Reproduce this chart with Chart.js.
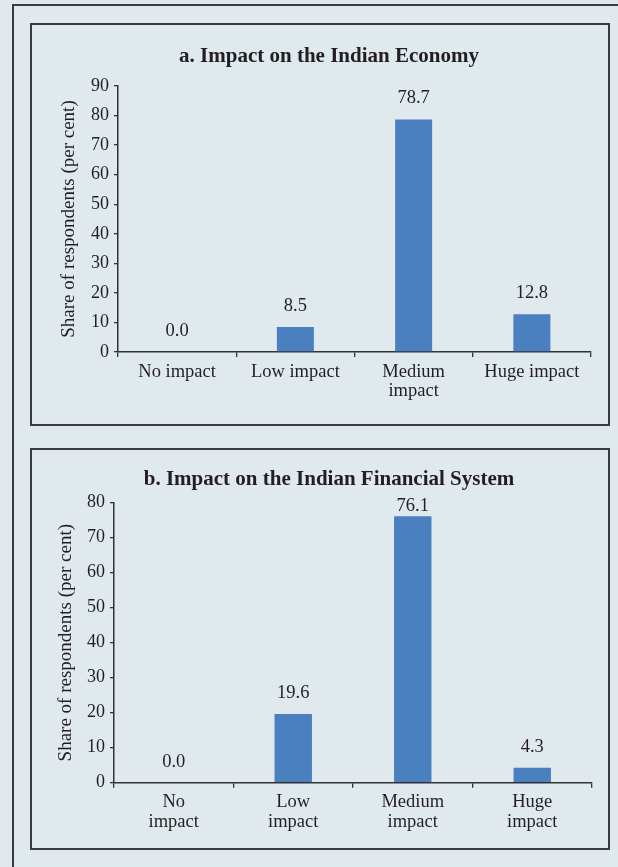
<!DOCTYPE html>
<html>
<head>
<meta charset="utf-8">
<script src="https://cdn.jsdelivr.net/npm/chart.js@4"></script>
<style>
  html, body { margin: 0; padding: 0; background: #dfe9ee; width: 618px; height: 867px; overflow: hidden; }
  #frame { position: absolute; left: 12px; top: 4px; width: 720px; height: 920px; border: 2px solid #3c3c3c; box-sizing: border-box; }
  .panel { position: absolute; left: 30px; width: 580px; border: 2px solid #3c3c3c; box-sizing: border-box; }
  #panelA { top: 23px; height: 403px; }
  #panelB { top: 448px; height: 402px; }
  canvas { display: block; }
</style>
</head>
<body>
<div id="frame"></div>
<div class="panel" id="panelA"><canvas id="chartA" width="576" height="399"></canvas></div>
<div class="panel" id="panelB"><canvas id="chartB" width="576" height="398"></canvas></div>
<script>
// Survey results: share of respondents by perceived impact
const titleA = 'a. Impact on the Indian Economy';
const titleB = 'b. Impact on the Indian Financial System';
const categoriesA = ['No impact', 'Low impact', ['Medium', 'impact'], 'Huge impact'];
const categoriesB = [['No', 'impact'], ['Low', 'impact'], ['Medium', 'impact'], ['Huge', 'impact']];
const economyShares = [0.0, 8.5, 78.7, 12.8];
const financialShares = [0.0, 19.6, 76.1, 4.3];
const yMaxA = 90;
const yMaxB = 80;
const yStep = 10;
const yAxisTitle = 'Share of respondents (per cent)';

const FONT = 'Liberation Serif';
const INK = '#231f20';
const AXIS = '#333333';
const BAR = '#4a7fc0';

// Draws the panel heading and the value above each bar
const panelDecor = {
  id: 'panelDecor',
  afterDatasetsDraw(chart, args, opts) {
    const ctx = chart.ctx;
    const area = chart.chartArea;
    ctx.save();
    ctx.fillStyle = INK;
    ctx.textAlign = 'center';
    ctx.textBaseline = 'alphabetic';
    ctx.font = 'bold ' + opts.titleSize + 'px "' + FONT + '"';
    ctx.fillText(opts.title, opts.titleX, opts.titleBaseline);
    ctx.font = '18.5px "' + FONT + '"';
    const meta = chart.getDatasetMeta(0);
    const values = chart.data.datasets[0].data;
    meta.data.forEach((bar, i) => {
      const y = Math.max(bar.y - 16, area.top + 8.5);
      ctx.fillText(values[i].toFixed(1), bar.x, y);
    });
    ctx.restore();
  }
};

function makeChart(id, labels, values, yMax, geom, title) {
  return new Chart(document.getElementById(id), {
    type: 'bar',
    data: {
      labels: labels,
      datasets: [{
        data: values,
        backgroundColor: BAR,
        borderWidth: 0,
        categoryPercentage: 1,
        barPercentage: 0.313
      }]
    },
    options: {
      responsive: false,
      animation: false,
      events: [],
      layout: { padding: { top: geom.top, right: geom.right, left: 0, bottom: 0 } },
      plugins: {
        legend: { display: false },
        tooltip: { enabled: false },
        title: { display: false },
        panelDecor: { title: title, titleSize: 21, titleX: geom.titleX, titleBaseline: geom.titleBaseline }
      },
      scales: {
        x: {
          afterFit(scale) { scale.height = geom.xHeight; },
          grid: { offset: true, drawOnChartArea: false, drawTicks: true, tickLength: 5, color: AXIS, lineWidth: 1.3 },
          border: { display: true, color: AXIS, width: 1.5 },
          ticks: { color: INK, padding: 5, maxRotation: 0, autoSkip: false, font: { family: FONT, size: 18.5, lineHeight: 1.06 } }
        },
        y: {
          min: 0,
          max: yMax,
          afterFit(scale) { scale.width = geom.yWidth; },
          grid: { drawOnChartArea: false, drawTicks: true, tickLength: 4, color: AXIS, lineWidth: 1.3 },
          border: { display: true, color: AXIS, width: 1.5 },
          ticks: { stepSize: yStep, color: INK, padding: 5, font: { family: FONT, size: 18 } },
          title: {
            display: true,
            text: yAxisTitle,
            color: INK,
            font: { family: FONT, size: 19, lineHeight: 1.2 },
            padding: { top: geom.yTitlePad, bottom: 0 }
          }
        }
      }
    },
    plugins: [panelDecor]
  });
}

makeChart('chartA', categoriesA, economyShares, yMaxA,
  { top: 61, right: 17, xHeight: 72, yWidth: 86, yTitlePad: 26.1, titleX: 297, titleBaseline: 37 }, titleA);
makeChart('chartB', categoriesB, financialShares, yMaxB,
  { top: 52.7, right: 16, xHeight: 65.3, yWidth: 82, yTitlePad: 22.6, titleX: 297, titleBaseline: 35 }, titleB);
</script>
</body>
</html>
